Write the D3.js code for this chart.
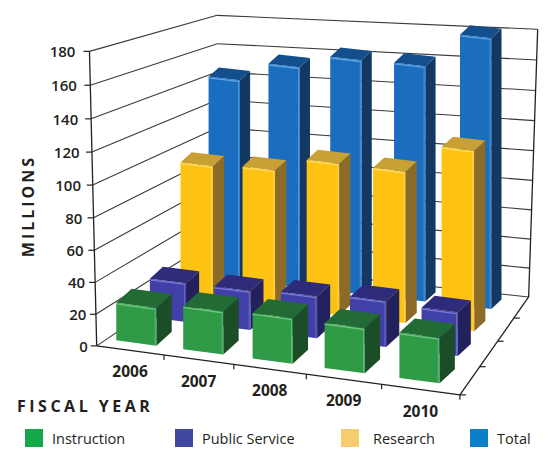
<!DOCTYPE html>
<html><head><meta charset="utf-8">
<script src="https://cdn.jsdelivr.net/npm/d3@7"></script>
<style>body{margin:0;background:#fff}</style>
</head><body>
<svg id="c" width="560" height="465"></svg>
<script>
const years = ["2006","2007","2008","2009","2010"];
const seriesNames = ["Instruction","Public Service","Research","Total"];
const instruction   = [24, 27, 28, 27.3, 27];
const publicService = [25.8, 25.5, 27, 29, 27.2];
const research      = [92, 92.7, 100.6, 99, 115.6];
const total         = [142, 153.3, 160.3, 158.7, 179];
const valueTicks = [0,20,40,60,80,100,120,140,160,180];
const seriesValues = [instruction, publicService, research, total];

const faceColors = [
  {front:"#2f9b47", top:"#226b34", side:"#1b4d27", hi:"#7fd08f"},
  {front:"#4040a8", top:"#2d2b7a", side:"#23215d", hi:"#8a8ae0"},
  {front:"#fec213", top:"#c9a035", side:"#8b6b27", hi:"#ffe27a"},
  {front:"#1b6ebf", top:"#134f8c", side:"#133862", hi:"#6fb0ee"}
];
const legendColors = ["#13a84a","#3f47a0","#f5cd6e","#0a80c8"];
const barTaper = [1, 0.94, 0.88, 0.88];   // extra depth shrink of the bar blocks

// screen anchors of the 3D frame (layout) : [x,y,z (0..1), screenX, screenY]
const calib = [
 [0,0,0,97,346],[0,20/180,0,95,312],[0,40/180,0,93,280],[0,160/180,0,89.5,86],[0,1,0,89,54],
 [0.2,0,0,166,357],[0.4,0,0,235,365],[0.6,0,0,307,375],[0.8,0,0,380,385],[1,0,0,457,393],
 [1,0,0.25,483,366],[1,0,0.5,500,340],[1,0,0.75,517,318],[1,0,1,527,299],
 [1,20/180,1,527,270],[1,40/180,1,528,240],[1,100/180,1,534,148],[1,160/180,1,537,59],[1,1,1,538,30],
 [0,1,1,218,15],[0,160/180,1,218,43]
];
function solve(A,b){
  const n=b.length; const M=A.map((r,i)=>r.concat([b[i]]));
  for(let c=0;c<n;c++){
    let piv=c; for(let r=c+1;r<n;r++) if(Math.abs(M[r][c])>Math.abs(M[piv][c])) piv=r;
    [M[c],M[piv]]=[M[piv],M[c]];
    for(let r=c+1;r<n;r++){const f=M[r][c]/M[c][c]; for(let k=c;k<=n;k++) M[r][k]-=f*M[c][k];}
  }
  const x=new Array(n).fill(0);
  for(let r=n-1;r>=0;r--){let s=M[r][n]; for(let k=r+1;k<n;k++) s-=M[r][k]*x[k]; x[r]=s/M[r][r];}
  return x;
}
const AtA=Array.from({length:11},()=>new Array(11).fill(0)), Atb=new Array(11).fill(0);
calib.forEach(([X,Y,Z,u,v])=>{
  const rows=[[X,Y,Z,1,0,0,0,0,-u*X,-u*Y,-u*Z,u],[0,0,0,0,X,Y,Z,1,-v*X,-v*Y,-v*Z,v]];
  rows.forEach(r=>{for(let i=0;i<11;i++){Atb[i]+=r[i]*r[11]; for(let j=0;j<11;j++) AtA[i][j]+=r[i]*r[j];}});
});
const p=solve(AtA,Atb);
function proj(x,y,z){const w=p[8]*x+p[9]*y+p[10]*z+1; return [(p[0]*x+p[1]*y+p[2]*z+p[3])/w,(p[4]*x+p[5]*y+p[6]*z+p[7])/w];}
const sub=(a,b)=>[a[0]-b[0],a[1]-b[1]], add=(a,b)=>[a[0]+b[0],a[1]+b[1]], mul=(a,k)=>[a[0]*k,a[1]*k];

const xBand = d3.scaleBand().domain(years).range([0,1]).paddingInner(0.44).paddingOuter(0.22).align(0.33);
const zBand = d3.scaleBand().domain(seriesNames).range([0,1]).paddingInner(0.45).paddingOuter(0.225).align(0.62);
const yScale = d3.scaleLinear().domain([0,180]).range([0,1]);

const svg=d3.select("#c");
const ink="#231f20", grid="#3a3a3a";
const line=(a,b,col,w)=>svg.append("line").attr("x1",a[0]).attr("y1",a[1]).attr("x2",b[0]).attr("y2",b[1]).attr("stroke",col).attr("stroke-width",w);

// walls
valueTicks.forEach(t=>{const y=yScale(t);
  line(proj(0,y,0),proj(0,y,1),grid,1.1);
  line(proj(0,y,1),proj(1,y,1),grid,1.1);
});
line(proj(1,0,1),proj(1,1,1),ink,1.3);

// bars: base corner from the perspective floor, block drawn as an upright extruded box
const poly=(pts,fill)=>svg.append("polygon").attr("points",pts.map(q=>q.join(",")).join(" ")).attr("fill",fill);
const bw=xBand.bandwidth(), bd=zBand.bandwidth();
for(let j=3;j>=0;j--){
  const z0=zBand(seriesNames[j]);
  const W=mul(sub(proj(0.5+bw/2,0,z0),proj(0.5-bw/2,0,z0)),barTaper[j]);
  const D=mul(sub(proj(0.5,0,z0+bd),proj(0.5,0,z0)),barTaper[j]);
  const c=faceColors[j];
  years.forEach((yr,i)=>{
    const x0=xBand(yr), h=yScale(seriesValues[j][i]);
    const A=proj(x0,0,z0);
    const H=A[1]-proj(x0,h,z0)[1];
    const B=add(A,W), Up=[0,-H];
    const At=add(A,Up), Bt=add(B,Up);
    poly([B,add(B,D),add(Bt,D),Bt],c.side);
    poly([At,Bt,add(Bt,D),add(At,D)],c.top);
    poly([A,B,Bt,At],c.front);
    line(add(At,[0,1.2]),add(Bt,[-0.8,1.2]),c.hi,1.3).attr("opacity",0.8);
    line(add(B,[-1.2,0]),add(Bt,[-1.2,1.2]),c.hi,1).attr("opacity",0.6);
  });
}

// axes
line(proj(0,0,0),proj(0,1,0),ink,1.3);
line(proj(0,0,0),proj(1,0,0),ink,1.3);
line(proj(1,0,0),proj(1,0,1),ink,1.3);
valueTicks.forEach(t=>{const q=proj(0,yScale(t),0);
  line(q,[q[0]-6,q[1]],ink,1.2);
  svg.append("text").attr("x",q[0]-9-5*t/180).attr("y",q[1]).attr("text-anchor","end").attr("dominant-baseline","central")
    .attr("font-family","Open Sans").attr("font-weight",600).attr("font-size",15).attr("fill",ink).text(t);
});
d3.range(1,6).forEach(k=>{const q=proj(k/5,0,0); line(q,[q[0],q[1]+5],ink,1.2);});
d3.range(0,4).forEach(k=>{const q=proj(1,0,k/4); line(q,[q[0]+6,q[1]],ink,1.2);});
years.forEach((yr,i)=>{const q=proj((i+0.5)/5,0,0);
  svg.append("text").attr("x",q[0]).attr("y",q[1]+21).attr("text-anchor","middle").attr("dominant-baseline","central")
    .attr("font-family","Open Sans").attr("font-weight",700).attr("font-size",15.5).attr("fill",ink).text(yr);
});
svg.append("text").attr("transform","translate(28,206) rotate(-90)").attr("text-anchor","middle").attr("dominant-baseline","central")
  .attr("font-family","Open Sans").attr("font-weight",700).attr("font-size",16).attr("letter-spacing",3).attr("fill",ink).text("MILLIONS");
svg.append("text").attr("x",17).attr("y",406).attr("dominant-baseline","central")
  .attr("font-family","Open Sans").attr("font-weight",700).attr("font-size",16).attr("letter-spacing",3.5).attr("fill",ink).text("FISCAL YEAR");
const legX=[25,175,341,470];
seriesNames.forEach((s,j)=>{
  svg.append("rect").attr("x",legX[j]).attr("y",429).attr("width",18).attr("height",18).attr("fill",legendColors[j]);
  svg.append("text").attr("x",legX[j]+(j==2?32:27)).attr("y",438).attr("dominant-baseline","central")
    .attr("font-family","Open Sans").attr("font-size",14.5).attr("fill",ink).text(s);
});
</script>
</body></html>
